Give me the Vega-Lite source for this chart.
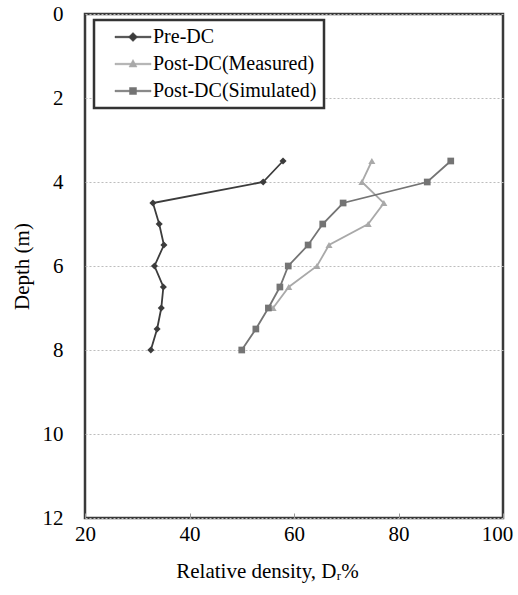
{
  "$schema": "https://vega.github.io/schema/vega-lite/v6.json",
  "autosize": "none",
  "width": 418,
  "height": 504,
  "padding": {"left": 85, "top": 14, "right": 15, "bottom": 77},
  "background": "white",
  "config": {
    "view": {"stroke": "#3a3a3a", "strokeWidth": 2.5},
    "font": "Liberation Serif, Times New Roman, serif"
  },
  "data": {
    "values": [
      {"series": "Pre-DC", "depth": 3.5, "density": 57.9},
      {"series": "Pre-DC", "depth": 4.0, "density": 54.1},
      {"series": "Pre-DC", "depth": 4.5, "density": 33.0},
      {"series": "Pre-DC", "depth": 5.0, "density": 34.2},
      {"series": "Pre-DC", "depth": 5.5, "density": 35.1},
      {"series": "Pre-DC", "depth": 6.0, "density": 33.3},
      {"series": "Pre-DC", "depth": 6.5, "density": 35.0},
      {"series": "Pre-DC", "depth": 7.0, "density": 34.6},
      {"series": "Pre-DC", "depth": 7.5, "density": 33.8},
      {"series": "Pre-DC", "depth": 8.0, "density": 32.6},
      {"series": "Post-DC(Measured)", "depth": 3.5, "density": 74.9},
      {"series": "Post-DC(Measured)", "depth": 4.0, "density": 73.0},
      {"series": "Post-DC(Measured)", "depth": 4.5, "density": 77.2},
      {"series": "Post-DC(Measured)", "depth": 5.0, "density": 74.2},
      {"series": "Post-DC(Measured)", "depth": 5.5, "density": 66.7},
      {"series": "Post-DC(Measured)", "depth": 6.0, "density": 64.4},
      {"series": "Post-DC(Measured)", "depth": 6.5, "density": 59.0},
      {"series": "Post-DC(Measured)", "depth": 7.0, "density": 56.0},
      {"series": "Post-DC(Simulated)", "depth": 3.5, "density": 90.0},
      {"series": "Post-DC(Simulated)", "depth": 4.0, "density": 85.5},
      {"series": "Post-DC(Simulated)", "depth": 4.5, "density": 69.4},
      {"series": "Post-DC(Simulated)", "depth": 5.0, "density": 65.5},
      {"series": "Post-DC(Simulated)", "depth": 5.5, "density": 62.7},
      {"series": "Post-DC(Simulated)", "depth": 6.0, "density": 58.9},
      {"series": "Post-DC(Simulated)", "depth": 6.5, "density": 57.3},
      {"series": "Post-DC(Simulated)", "depth": 7.0, "density": 55.1},
      {"series": "Post-DC(Simulated)", "depth": 7.5, "density": 52.7},
      {"series": "Post-DC(Simulated)", "depth": 8.0, "density": 50.0}
    ]
  },
  "encoding": {
    "x": {
      "field": "density", "type": "quantitative",
      "scale": {"domain": [20, 100], "nice": false, "zero": false},
      "axis": {
        "values": [20, 40, 60, 80, 100],
        "title": "Relative density, Dᵣ%",
        "titleFont": "Liberation Serif, Times New Roman, serif", "titleFontSize": 21, "titleFontWeight": "normal",
        "titleColor": "black", "titleX": 182, "titlePadding": 16,
        "labelFont": "Liberation Serif, Times New Roman, serif", "labelFontSize": 21, "labelColor": "black",
        "labelPadding": 10, "grid": false, "domain": false,
        "ticks": true, "tickSize": -5, "tickColor": "#999", "tickWidth": 1,
        "labelFlush": false,
        "labelOffset": {"condition": {"test": "datum.value === 100", "value": -6}, "value": 0}
      }
    },
    "y": {
      "field": "depth", "type": "quantitative",
      "scale": {"domain": [0, 12], "nice": false, "zero": false, "reverse": true},
      "axis": {
        "values": [0, 2, 4, 6, 8, 10, 12],
        "title": "Depth (m)",
        "titleFont": "Liberation Serif, Times New Roman, serif", "titleFontSize": 21, "titleFontWeight": "normal",
        "titleColor": "black", "titlePadding": 10,
        "labelFont": "Liberation Serif, Times New Roman, serif", "labelFontSize": 21, "labelColor": "black",
        "labelPadding": 22, "ticks": false, "domain": false,
        "grid": true, "gridColor": "#bdbdbd", "gridDash": [2, 2], "gridWidth": 1.2,
        "labelFlush": false
      }
    },
    "color": {
      "field": "series", "type": "nominal",
      "scale": {
        "domain": ["Pre-DC", "Post-DC(Measured)", "Post-DC(Simulated)"],
        "range": ["#3c3c3c", "#a9a9a9", "#747474"]
      },
      "legend": {
        "title": null,
        "orient": "none", "legendX": 9, "legendY": 6,
        "padding": 7,
        "strokeColor": "#333", "fillColor": "white",
        "labelFont": "Liberation Serif, Times New Roman, serif", "labelFontSize": 20, "labelColor": "black",
        "labelLimit": 400,
        "labelOffset": 10, "symbolOffset": 22, "symbolSize": 100, "rowPadding": 7,
        "encode": {
          "legend": {"update": {"strokeWidth": {"value": 2.5}}},
          "symbols": {
            "update": {
              "shape": {"signal": "datum.value === 'Pre-DC' ? 'M-3.6,-0.15H3.6V0.15H-3.6ZM0,-0.9L0.9,0L0,0.9L-0.9,0Z' : datum.value === 'Post-DC(Measured)' ? 'M-3.6,-0.15H3.6V0.15H-3.6ZM0,-0.9L0.8,0.6H-0.8Z' : 'M-3.6,-0.15H3.6V0.15H-3.6ZM-0.7,-0.7H0.7V0.7H-0.7Z'"},
              "fill": {"signal": "scale('color', datum.value)"},
              "stroke": {"signal": "scale('color', datum.value)"},
              "strokeWidth": {"value": 0.5},
              "fillOpacity": {"value": 1},
              "opacity": {"value": 1}
            }
          }
        }
      }
    }
  },
  "layer": [
    {
      "mark": {"type": "line", "strokeWidth": 1.8},
      "encoding": {"order": {"field": "depth", "type": "quantitative"}}
    },
    {
      "transform": [{"filter": "datum.series === 'Pre-DC'"}],
      "mark": {"type": "point", "shape": "diamond", "filled": true, "opacity": 1, "size": 50}
    },
    {
      "transform": [{"filter": "datum.series === 'Post-DC(Measured)'"}],
      "mark": {"type": "point", "shape": "triangle-up", "filled": true, "opacity": 1, "size": 50}
    },
    {
      "transform": [{"filter": "datum.series === 'Post-DC(Simulated)'"}],
      "mark": {"type": "point", "shape": "square", "filled": true, "opacity": 1, "size": 45}
    }
  ]
}
